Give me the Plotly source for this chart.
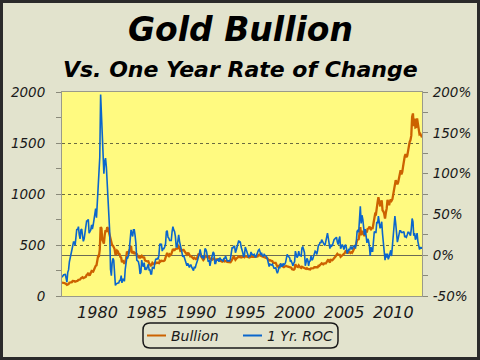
import pandas as pd
import plotly.graph_objects as go

# ---------------- data (monthly, Feb 1976 .. Aug 2012) ----------------
start_month = "1976-02-01"

bullion = [
    131, 133, 128, 127, 126, 118, 110, 114, 117, 130, 134,                 # 1976 (Feb-Dec)
    132, 136, 148, 149, 147, 141, 143, 145, 149, 158, 162, 161,            # 1977
    173, 179, 184, 175, 177, 183, 188, 206, 212, 227, 206, 207,            # 1978
    227, 245, 242, 239, 257, 279, 295, 301, 355, 392, 392, 456,            # 1979
    675, 665, 554, 517, 513, 600, 645, 627, 674, 662, 623, 595,            # 1980
    557, 500, 499, 495, 480, 461, 409, 410, 444, 437, 413, 410,            # 1981
    384, 374, 330, 350, 334, 315, 339, 364, 436, 422, 415, 444,            # 1982
    481, 491, 420, 432, 438, 413, 422, 416, 412, 394, 382, 388,            # 1983
    371, 387, 394, 381, 377, 377, 348, 348, 341, 340, 341, 320,            # 1984
    303, 299, 304, 325, 316, 317, 317, 330, 323, 326, 325, 322,            # 1985
    345, 339, 346, 340, 342, 343, 349, 376, 418, 423, 398, 391,            # 1986
    408, 401, 409, 438, 460, 450, 450, 461, 460, 465, 467, 487,            # 1987
    477, 442, 443, 452, 451, 451, 437, 432, 413, 406, 420, 419,            # 1988
    404, 388, 390, 384, 371, 367, 375, 365, 362, 367, 394, 409,            # 1989
    410, 417, 393, 374, 369, 352, 362, 395, 389, 381, 381, 378,            # 1990
    384, 364, 363, 358, 357, 367, 368, 356, 349, 359, 360, 361,            # 1991
    354, 354, 345, 338, 337, 341, 353, 340, 345, 344, 335, 334,            # 1992
    329, 330, 330, 342, 367, 372, 392, 379, 355, 365, 373, 383,            # 1993
    387, 382, 384, 377, 381, 385, 385, 380, 391, 389, 384, 379,            # 1994
    379, 377, 382, 391, 385, 387, 386, 383, 383, 383, 386, 387,            # 1995
    400, 405, 396, 393, 392, 385, 383, 387, 383, 381, 378, 369,            # 1996
    355, 347, 352, 344, 344, 341, 324, 324, 323, 325, 306, 289,            # 1997
    289, 297, 296, 308, 299, 292, 293, 284, 289, 296, 294, 291,            # 1998
    287, 287, 286, 282, 277, 262, 256, 257, 265, 311, 293, 283,            # 1999
    284, 300, 286, 280, 275, 286, 282, 275, 274, 270, 266, 272,            # 2000
    266, 262, 263, 261, 272, 270, 268, 273, 283, 283, 276, 276,            # 2001
    282, 296, 294, 303, 314, 321, 314, 310, 319, 317, 319, 333,            # 2002
    357, 359, 340, 328, 355, 356, 351, 360, 379, 379, 390, 407,            # 2003
    414, 405, 406, 404, 384, 392, 398, 400, 406, 420, 439, 442,            # 2004
    424, 424, 434, 429, 422, 430, 424, 438, 456, 470, 476, 510,            # 2005
    549, 555, 557, 610, 676, 596, 633, 632, 599, 586, 628, 629,            # 2006
    631, 665, 655, 680, 667, 655, 665, 665, 713, 754, 806, 803,            # 2007
    889, 923, 968, 909, 888, 890, 939, 839, 829, 807, 760, 816,            # 2008
    858, 943, 924, 890, 928, 946, 934, 949, 996, 1044, 1127, 1135,         # 2009
    1118, 1095, 1113, 1148, 1205, 1233, 1193, 1215, 1271, 1343, 1370, 1391,  # 2010
    1360, 1374, 1424, 1473, 1510, 1529, 1572, 1756, 1790, 1666, 1739, 1652,  # 2011
    1656, 1742, 1673, 1650, 1585, 1590, 1570, 1555,                        # 2012 (Jan-Aug)
]

roc_pct = [
    -27, -25, -24, -24, -23, -28, -33, -21, -18, -8, -4,                   # 1976 (Feb-Dec)
    1, 4, 11, 16, 16, 12, 21, 32, 31, 35, 25, 20,                          # 1977
    31, 32, 24, 17, 20, 30, 31, 42, 42, 44, 27, 29,                        # 1978
    31, 37, 32, 37, 45, 52, 57, 46, 67, 73, 90, 120,                       # 1979
    197, 171, 129, 116, 100, 115, 119, 108, 90, 69, 59, 30,                # 1980
    -17, -25, -10, -4, -6, -23, -37, -35, -34, -34, -34, -31,              # 1981
    -31, -25, -34, -29, -30, -32, -17, -11, -2, -3, 0, 8,                  # 1982
    25, 31, 27, 23, 31, 31, 24, 14, -6, -7, -8, -13,                       # 1983
    -23, -21, -6, -12, -14, -9, -18, -16, -17, -14, -11, -18,              # 1984
    -18, -23, -23, -15, -16, -16, -9, -5, -5, -4, -5, 1,                   # 1985
    14, 13, 14, 5, 8, 8, 10, 14, 29, 30, 22, 21,                           # 1986
    18, 18, 18, 29, 35, 31, 29, 23, 10, 10, 17, 25,                        # 1987
    17, 10, 8, 3, -2, 0, -3, -6, -10, -13, -10, -14,                       # 1988
    -15, -12, -12, -15, -18, -19, -14, -16, -12, -10, -6, -2,              # 1989
    1, 7, 1, -3, -1, -4, -3, 8, 7, 4, -3, -8,                              # 1990
    -6, -13, -8, -4, -3, 4, 2, -10, -10, -6, -6, -5,                       # 1991
    -8, -3, -5, -6, -6, -7, -4, -4, -1, -4, -7, -7,                        # 1992
    -7, -7, -4, 1, 9, 9, 11, 11, 3, 6, 11, 15,                             # 1993
    18, 16, 16, 10, 4, 3, -2, 0, 10, 7, 3, -1,                             # 1994
    -2, -1, -1, 4, 1, 1, 0, 1, -2, -2, 1, 2,                               # 1995
    6, 7, 4, 1, 2, -1, -1, 1, 0, -1, -2, -5,                               # 1996
    -11, -14, -11, -12, -12, -11, -15, -16, -16, -15, -19, -22,            # 1997
    -19, -14, -16, -10, -13, -14, -10, -12, -11, -9, -4, 1,                # 1998
    -1, -3, -3, -8, -7, -10, -13, -10, -8, 5, 0, -3,                       # 1999
    -1, 5, 0, -1, -1, 9, 10, 7, 3, -13, -9, -4,                            # 2000
    -6, -13, -8, -7, -1, -6, -5, -1, 3, 5, 4, 1,                           # 2001
    6, 13, 12, 16, 15, 19, 17, 14, 13, 12, 16, 21,                         # 2002
    27, 21, 16, 8, 13, 11, 12, 16, 19, 20, 22, 22,                         # 2003
    16, 13, 19, 23, 8, 10, 13, 11, 7, 11, 13, 9,                           # 2004
    2, 5, 7, 6, 10, 10, 7, 10, 12, 12, 8, 15,                              # 2005
    29, 31, 28, 42, 60, 39, 49, 44, 31, 25, 32, 23,                        # 2006
    15, 20, 18, 11, -1, 10, 5, 5, 19, 29, 28, 28,                          # 2007
    41, 39, 48, 34, 33, 36, 41, 26, 16, 7, -6, 2,                          # 2008
    -3, 2, -5, -2, 5, 6, -1, 13, 20, 29, 48, 39,                           # 2009
    30, 16, 20, 29, 30, 30, 28, 28, 28, 29, 22, 23,                        # 2010
    22, 25, 28, 28, 25, 24, 32, 45, 41, 24, 27, 19,                        # 2011
    22, 27, 17, 12, 7, 10, 8, 10,                                          # 2012 (Jan-Aug)
]

year_labels = ["1980", "1985", "1990", "1995", "2000", "2005", "2010"]
label_dates = ["1979-09-06", "1984-09-06", "1989-09-06", "1994-09-06",
               "1999-09-06", "2004-09-06", "2009-09-06"]
left_ticks = [0, 500, 1000, 1500, 2000]
right_ticks = [-50, 0, 50, 100, 150, 200]
right_text = ["-50%", "0%", "50%", "100%", "150%", "200%"]

dates = pd.date_range(start_month, periods=len(bullion), freq="MS")

# ---------------- styling ----------------
W, H = 480, 360
L, R, T, B = 62, 58, 92, 64
PW, PH = W - L - R, H - T - B
FONT = "DejaVu Sans"
ORANGE = "#CC6200"
BLUE = "#0B66CC"
PAPER = "#E2E3CD"
PLOT = "#FFFA80"


def px(x):
    return (x - L) / PW


def py(y):
    return (H - B - y) / PH


fig = go.Figure()
fig.add_trace(go.Scatter(x=dates, y=bullion, mode="lines", name="Bullion",
                         line=dict(color=ORANGE, width=2.3), yaxis="y",
                         showlegend=False))
fig.add_trace(go.Scatter(x=dates, y=roc_pct, mode="lines", name="1 Yr. ROC",
                         line=dict(color=BLUE, width=1.6), yaxis="y2",
                         showlegend=False))

tickfont = dict(family=FONT, size=13.5, color="#1a1a1a", style="italic")

fig.update_layout(
    width=W, height=H,
    margin=dict(l=L, r=R, t=T, b=B, autoexpand=False),
    paper_bgcolor=PAPER,
    plot_bgcolor=PLOT,
    showlegend=False,
    xaxis=dict(
        type="date", range=[dates[0], dates[-1]],
        tickmode="array", tickvals=label_dates, ticktext=year_labels,
        ticks="", showgrid=False, zeroline=False,
        showline=True, linecolor="#9a9a8a", linewidth=1, mirror=True,
        tickfont=dict(family=FONT, size=16, color="#1a1a1a", style="italic"),
        ticklabelstandoff=2,
    ),
    yaxis=dict(
        range=[0, 2000], tickmode="array", tickvals=left_ticks,
        ticks="outside", ticklen=5, tickcolor="#8a8a7a",
        minor=dict(tickvals=[250, 750, 1250, 1750], ticks="outside",
                   ticklen=5, tickcolor="#8a8a7a", showgrid=False),
        showgrid=True, gridcolor="#6b6b40", griddash="dot", gridwidth=1,
        zeroline=False, showline=True, linecolor="#9a9a8a", linewidth=1,
        tickfont=tickfont, ticklabelstandoff=8,
    ),
    yaxis2=dict(
        range=[-50, 200], overlaying="y", side="right",
        tickmode="array", tickvals=right_ticks, ticktext=right_text,
        ticks="outside", ticklen=5, tickcolor="#8a8a7a",
        minor=dict(tickvals=[-25, 25, 75, 125, 175], ticks="outside",
                   ticklen=5, tickcolor="#8a8a7a", showgrid=False),
        showgrid=False, zeroline=True, zerolinecolor="#6b6b55",
        zerolinewidth=1, showline=True, linecolor="#9a9a8a", linewidth=1,
        tickfont=tickfont, ticklabelstandoff=2,
    ),
)

# titles
fig.add_annotation(text="Gold Bullion", xref="paper", yref="paper",
                   x=px(240), y=py(29), showarrow=False,
                   xanchor="center", yanchor="middle",
                   font=dict(family=FONT, size=33, color="#000000",
                             weight="bold", style="italic"))
fig.add_annotation(text="Vs. One Year Rate of Change", xref="paper", yref="paper",
                   x=px(240), y=py(69), showarrow=False,
                   xanchor="center", yanchor="middle",
                   font=dict(family=FONT, size=22, color="#000000",
                             weight="bold", style="italic"))

# outer border
fig.add_shape(type="rect", xref="paper", yref="paper",
              x0=px(1.5), x1=px(W - 1.5), y0=py(H - 1.5), y1=py(1.5),
              line=dict(color="#2a2a2a", width=3), layer="above")

# legend (rounded box, samples, labels)
bx0, bx1, by0, by1, rr = 143, 338, 323, 348, 7
path = (
    f"M {px(bx0 + rr)},{py(by0)} L {px(bx1 - rr)},{py(by0)} "
    f"Q {px(bx1)},{py(by0)} {px(bx1)},{py(by0 + rr)} "
    f"L {px(bx1)},{py(by1 - rr)} Q {px(bx1)},{py(by1)} {px(bx1 - rr)},{py(by1)} "
    f"L {px(bx0 + rr)},{py(by1)} Q {px(bx0)},{py(by1)} {px(bx0)},{py(by1 - rr)} "
    f"L {px(bx0)},{py(by0 + rr)} Q {px(bx0)},{py(by0)} {px(bx0 + rr)},{py(by0)} Z"
)
fig.add_shape(type="path", path=path, xref="paper", yref="paper",
              line=dict(color="#1a1a1a", width=1.5))
ly = 335.5
fig.add_shape(type="line", xref="paper", yref="paper",
              x0=px(147), x1=px(166), y0=py(ly), y1=py(ly),
              line=dict(color=ORANGE, width=2))
fig.add_shape(type="line", xref="paper", yref="paper",
              x0=px(243), x1=px(262), y0=py(ly), y1=py(ly),
              line=dict(color=BLUE, width=2))
legfont = dict(family=FONT, size=14, color="#1a1a1a", style="italic")
fig.add_annotation(text="Bullion", xref="paper", yref="paper",
                   x=px(169), y=py(ly), showarrow=False,
                   xanchor="left", yanchor="middle", font=legfont)
fig.add_annotation(text="1 Yr. ROC", xref="paper", yref="paper",
                   x=px(265), y=py(ly), showarrow=False,
                   xanchor="left", yanchor="middle", font=legfont)

fig.write_html(
    "out.html",
    config={"displayModeBar": False},
    post_script="document.body.style.margin='0';document.body.style.padding='0';",
)
